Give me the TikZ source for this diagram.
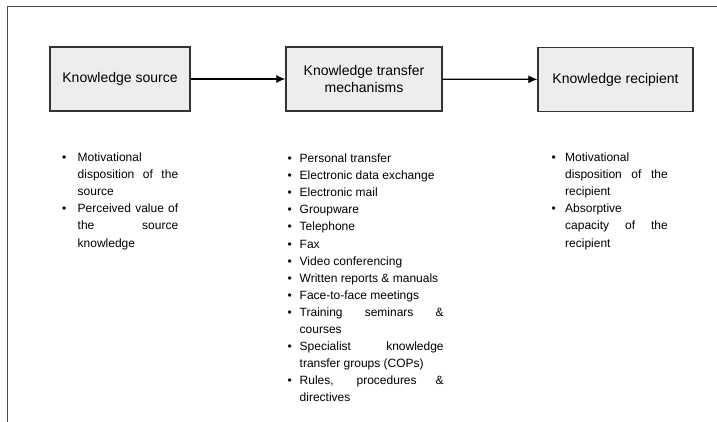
\documentclass[tikz,border=0pt]{standalone}
\usepackage{fontspec}
\setmainfont{Liberation Sans}
\usetikzlibrary{arrows.meta}
\newlength\bgap
\newcommand\bitem{\par\noindent\hangindent=\bgap\hangafter=1\hbox to\bgap{\textbullet\hfil}}
\begin{document}
\begin{tikzpicture}[x=1pt,y=-1pt,
  box/.style={draw=black!80,line width=1.3pt,fill=black!7,minimum height=64pt,align=center,font=\fontsize{14}{17}\selectfont},
  items/.style={anchor=base west,inner sep=0pt,align=justify,font=\fontsize{12}{17.1}\selectfont,execute at begin node={\setlength\bgap{#1}\hyphenpenalty=10000}},
  link/.style={line width=1.2pt,-{Latex[length=9pt,width=8pt]}}]
\useasboundingbox (0,0) rectangle (717,422);
\draw[line width=1.8pt,black!70] (7.5,422) -- (7.5,6.5) -- (717,6.5);
\node[box,minimum width=140pt] (source) at (120,79) {Knowledge source};
\node[box,minimum width=156pt] (mech) at (364,79) {Knowledge transfer\\mechanisms};
\node[box,minimum width=155pt] (recip) at (615.5,79.5) {Knowledge recipient};
\draw[link] (source) -- (mech);
\draw[link] (mech) -- (recip);
\node[items=15.5pt,text width=116pt] (srclist) at (62,144.5) {%
\bitem Motivational\newline disposition of the\linebreak source
\bitem Perceived value of\linebreak the source\linebreak knowledge\par};
\node[items=12pt,text width=156pt] (mechlist) at (287.5,145.5) {%
\bitem Personal transfer
\bitem Electronic data exchange
\bitem Electronic mail
\bitem Groupware
\bitem Telephone
\bitem Fax
\bitem Video conferencing
\bitem Written reports \& manuals
\bitem Face-to-face meetings
\bitem Training seminars \&\linebreak courses
\bitem Specialist knowledge\linebreak transfer groups (COPs)
\bitem Rules, procedures \&\linebreak directives\par};
\node[items=13.5pt,text width=116pt] (reclist) at (551.5,144.5) {%
\bitem Motivational\newline disposition of the\linebreak recipient
\bitem Absorptive\newline capacity of the\linebreak recipient\par};
\end{tikzpicture}
\end{document}
